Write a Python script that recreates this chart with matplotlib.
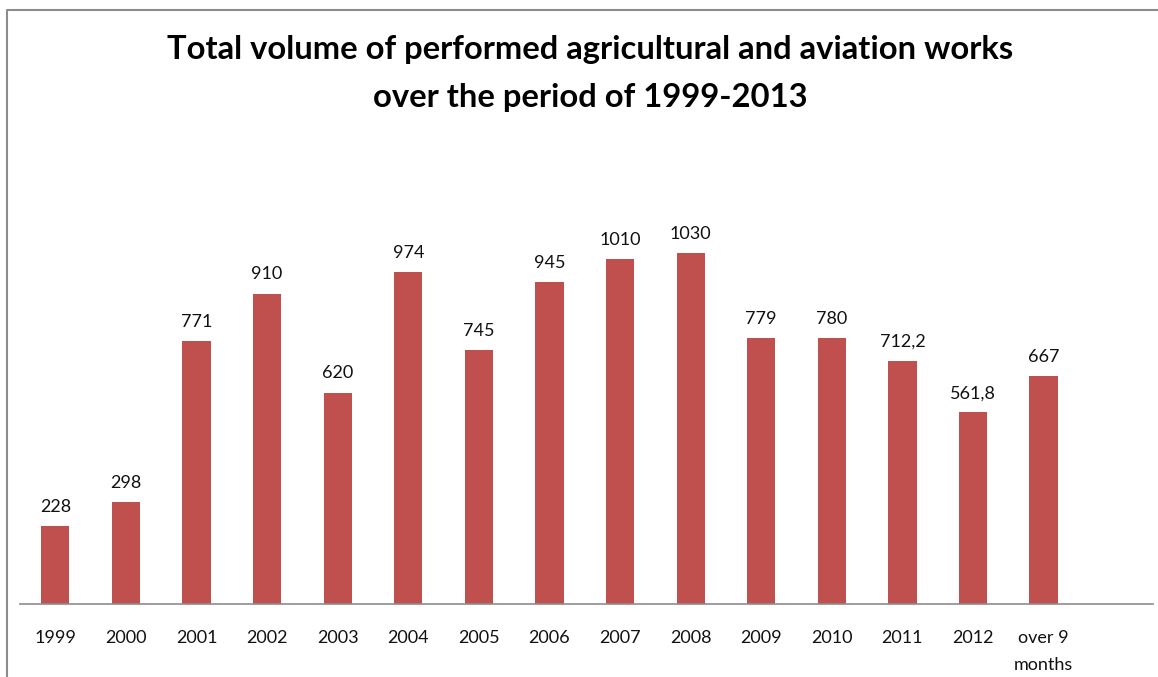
import matplotlib.pyplot as plt
from matplotlib.lines import Line2D

# data
years = ['1999', '2000', '2001', '2002', '2003', '2004', '2005', '2006',
         '2007', '2008', '2009', '2010', '2011', '2012', 'over 9\nmonths']
volume = [228, 298, 771, 910, 620, 974, 745, 945, 1010, 1030, 779, 780, 712.2, 561.8, 667]
labels = ['228', '298', '771', '910', '620', '974', '745', '945', '1010', '1030',
          '779', '780', '712,2', '561,8', '667']

plt.rcParams['font.family'] = ['Lato', 'DejaVu Sans']

W, H = 1158, 677
fig = plt.figure(figsize=(W / 100, H / 100), dpi=100)
ax = fig.add_axes([20 / W, (H - 604) / H, 1133 / W, 424 / H])

x = list(range(len(years)))
bars = ax.bar(x, volume, width=0.4, color='#C0504D', zorder=2)

for b, lab in zip(bars, labels):
    ax.annotate(lab, (b.get_x() + b.get_width() / 2, b.get_height()),
                xytext=(0, 8), textcoords='offset points',
                ha='center', va='bottom', fontsize=13, color='#111111')

ax.set_xlim(-0.5, 15.55)
ax.set_ylim(0, 1243)
ax.set_xticks(x)
ax.set_xticklabels(years, fontsize=13, color='#111111', linespacing=1.85)
ax.tick_params(axis='x', length=0, pad=19)
ax.set_yticks([])
for side in ['top', 'right', 'left']:
    ax.spines[side].set_visible(False)
ax.spines['bottom'].set_color('#8c8c8c')
ax.spines['bottom'].set_linewidth(1.2)

fig.text(590 / W, 1 - 49 / H, 'Total volume of performed agricultural and aviation works',
         ha='center', va='center', fontsize=23.6, fontweight='bold')
fig.text(590 / W, 1 - 98 / H, 'over the period of 1999-2013',
         ha='center', va='center', fontsize=23.6, fontweight='bold')

# outer chart frame (top and left edges)
fig.add_artist(Line2D([7 / W, 7 / W, 1.0], [0, 1 - 10 / H, 1 - 10 / H],
                      transform=fig.transFigure, color='#8c8c8c', linewidth=1.5))

fig.savefig('out.png', dpi=100)
